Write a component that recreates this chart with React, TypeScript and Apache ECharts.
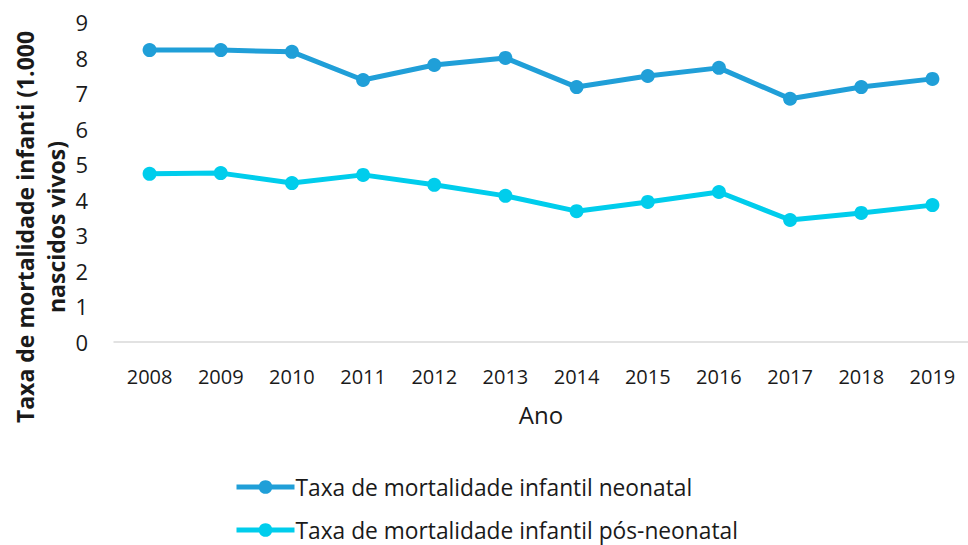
import React, { useEffect, useRef } from "react";
import * as echarts from "echarts";

const years = ["2008", "2009", "2010", "2011", "2012", "2013", "2014", "2015", "2016", "2017", "2018", "2019"];
const neonatal = [8.21, 8.21, 8.16, 7.37, 7.79, 7.99, 7.17, 7.48, 7.71, 6.84, 7.17, 7.4];
const posNeonatal = [4.73, 4.75, 4.47, 4.7, 4.42, 4.11, 3.68, 3.94, 4.22, 3.43, 3.63, 3.85];
const seriesNames = ["Taxa de mortalidade infantil neonatal", "Taxa de mortalidade infantil pós-neonatal"];
const yAxisTitle = "Taxa de mortalidade infanti (1.000\nnascidos vivos)";
const xAxisTitle = "Ano";

const FONT = "'Open Sans', 'Noto Sans', sans-serif";

const legendBase = {
  orient: "horizontal",
  left: 234,
  itemWidth: 58,
  itemHeight: 17,
  padding: 0,
  lineStyle: { width: 5 },
  textStyle: {
    color: "#1a1a1a",
    fontSize: 22.75,
    lineHeight: 24,
    fontFamily: FONT,
    padding: [0, 0, 0, -4],
  },
};

export default function App() {
  const ref = useRef<HTMLDivElement>(null);
  useEffect(() => {
    if (!ref.current) return;
    const chart = echarts.init(ref.current, undefined, { renderer: "svg" });
    chart.setOption({
      animation: false,
      backgroundColor: "#ffffff",
      textStyle: { fontFamily: FONT },
      grid: { left: 114, right: 0, top: 22, height: 320, containLabel: false },
      xAxis: {
        type: "category",
        data: years,
        boundaryGap: true,
        axisLine: { show: true, lineStyle: { color: "#d9d9d9", width: 1.5 } },
        axisTick: { show: false },
        axisLabel: { color: "#1a1a1a", fontSize: 20, margin: 24, fontFamily: FONT },
        name: xAxisTitle,
        nameLocation: "middle",
        nameGap: 60,
        nameTextStyle: { color: "#1a1a1a", fontSize: 24, fontFamily: FONT },
      },
      yAxis: {
        type: "value",
        min: 0,
        max: 9,
        interval: 1,
        axisLine: { show: false },
        axisTick: { show: false },
        splitLine: { show: false },
        axisLabel: { color: "#1a1a1a", fontSize: 22, margin: 26, fontFamily: FONT },
      },
      legend: [
        { ...legendBase, top: 475, data: [seriesNames[0]] },
        { ...legendBase, top: 518, data: [seriesNames[1]] },
      ],
      graphic: [
        {
          type: "text",
          x: 40,
          y: 227,
          rotation: Math.PI / 2,
          style: {
            text: yAxisTitle,
            fontSize: 23,
            fontWeight: "bold",
            fontFamily: FONT,
            fill: "#1a1a1a",
            textAlign: "center",
            textVerticalAlign: "middle",
            lineHeight: 31,
          },
        },
      ],
      series: [
        {
          name: seriesNames[0],
          type: "line",
          data: neonatal,
          symbol: "circle",
          symbolSize: 14,
          itemStyle: { color: "#209FD8" },
          lineStyle: { color: "#209FD8", width: 5 },
        },
        {
          name: seriesNames[1],
          type: "line",
          data: posNeonatal,
          symbol: "circle",
          symbolSize: 14,
          itemStyle: { color: "#00CDEC" },
          lineStyle: { color: "#00CDEC", width: 5 },
        },
      ],
    });
    return () => chart.dispose();
  }, []);
  return (
    <div
      ref={ref}
      style={{ position: "fixed", left: 0, top: 0, width: 968, height: 545, background: "#fff" }}
    />
  );
}
